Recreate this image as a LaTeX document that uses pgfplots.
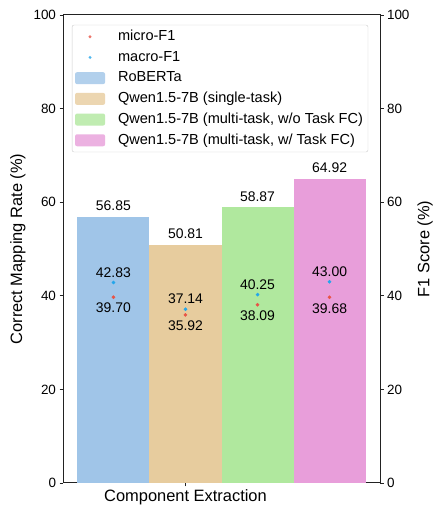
\documentclass[border=0pt]{standalone}
\usepackage{fontspec}
\setmainfont{Liberation Sans}
\usepackage{pgfplots}
\pgfplotsset{compat=1.18}

\definecolor{cRob}{RGB}{160,197,232}
\definecolor{cSingle}{RGB}{231,204,158}
\definecolor{cWo}{RGB}{176,232,158}
\definecolor{cW}{RGB}{232,158,218}
\definecolor{cMicro}{RGB}{232,84,70}
\definecolor{cMacro}{RGB}{35,166,235}
\definecolor{spine}{RGB}{34,34,34}

\begin{document}
\begin{tikzpicture}[x=1bp,y=1bp]
\path[use as bounding box] (0,0) rectangle (434,506);
\pgfplotsset{
  base/.style={
    at={(63bp,23bp)}, anchor=south west,
    scale only axis, width=317bp, height=468bp,
    xmin=-1.7, xmax=2.7, ymin=0, ymax=100,
    ytick={0,20,...,100},
    tick align=outside,
    major tick length=3.5bp,
    every tick/.style={spine, line width=0.8pt},
    axis line style={spine, line width=1pt},
    tick label style={font=\fontsize{13.5}{16}\selectfont},
    /pgf/number format/assume math mode=true,
  },
  barlbl/.style={point meta=explicit symbolic, nodes near coords,
    every node near coord/.style={anchor=center, yshift=11bp, black,
      font=\fontsize{14}{17}\selectfont}},
}
\begin{axis}[base,
  xtick={0}, xticklabels={Component Extraction},
  x tick label style={font=\fontsize{16.5}{19}\selectfont, yshift=-1bp, inner sep=2bp},
  xtick pos=left, ytick pos=left,
  ylabel={Correct Mapping Rate (\%)},
  every axis y label/.style={at={(axis description cs:-0.142,0.5)}, rotate=90,
    anchor=center, font=\fontsize{16.5}{19}\selectfont},
  legend cell align=left,
  legend style={at={(axis description cs:0.028,0.979)}, anchor=north west,
    draw=black!20, rounded corners=2bp, fill=white, fill opacity=0.8, text opacity=1,
    font=\fontsize{14.6}{17}\selectfont, row sep=3.2bp, column sep=11bp, inner sep=3bp,
    nodes={inner sep=2bp, text height=10.5bp, text depth=3bp}},
]
% dummy plots (out of range) so that the F1 entries come first in the legend
\addplot[draw=none, only marks, mark=none,
  legend image code/.code={\fill[cMicro] (15bp,0bp) circle (1.6bp); \path (0bp,0bp) -- (30bp,0bp);}]
  coordinates {(0,-50)};
\addlegendentry{micro-F1}
\addplot[draw=none, only marks, mark=none,
  legend image code/.code={\fill[cMacro] (15bp,0bp) circle (1.6bp); \path (0bp,0bp) -- (30bp,0bp);}]
  coordinates {(0,-50)};
\addlegendentry{macro-F1}

\addplot[ybar, bar width=1, bar shift=0pt, fill=cRob, draw=none, barlbl,
  legend image code/.code={\fill[cRob] (0bp,-6bp) rectangle (30bp,6bp);}]
  coordinates {(-1,56.85) [56.85]};
\addlegendentry{RoBERTa}
\addplot[ybar, bar width=1, bar shift=0pt, fill=cSingle, draw=none, barlbl,
  legend image code/.code={\fill[cSingle] (0bp,-6bp) rectangle (30bp,6bp);}]
  coordinates {(0,50.81) [50.81]};
\addlegendentry{Qwen1.5-7B (single-task)}
\addplot[ybar, bar width=1, bar shift=0pt, fill=cWo, draw=none, barlbl,
  legend image code/.code={\fill[cWo] (0bp,-6bp) rectangle (30bp,6bp);}]
  coordinates {(1,58.87) [58.87]};
\addlegendentry{Qwen1.5-7B (multi-task, w/o Task FC)}
\addplot[ybar, bar width=1, bar shift=0pt, fill=cW, draw=none, barlbl,
  legend image code/.code={\fill[cW] (0bp,-6bp) rectangle (30bp,6bp);}]
  coordinates {(2,64.92) [64.92]};
\addlegendentry{Qwen1.5-7B (multi-task, w/ Task FC)}

% F1 scores (right axis has the same 0-100 scale)
\addplot[forget plot, only marks, mark=*, mark size=1.6bp, cMacro,
  point meta=explicit symbolic, nodes near coords,
  every node near coord/.style={anchor=center, yshift=10bp, black, font=\fontsize{14}{17}\selectfont}]
  coordinates {(-1,42.83) [42.83] (0,37.14) [37.14] (1,40.25) [40.25] (2,43.00) [43.00]};
\addplot[forget plot, only marks, mark=*, mark size=1.6bp, cMicro,
  point meta=explicit symbolic, nodes near coords,
  every node near coord/.style={anchor=center, yshift=-11bp, black, font=\fontsize{14}{17}\selectfont}]
  coordinates {(-1,39.70) [39.70] (0,35.92) [35.92] (1,38.09) [38.09] (2,39.68) [39.68]};
\end{axis}

\begin{axis}[base,
  axis x line=none, axis y line*=right,
  ylabel={F1 Score (\%)},
  every axis y label/.style={at={(axis description cs:1.142,0.5)}, rotate=90,
    anchor=center, font=\fontsize{16.5}{19}\selectfont},
]
\end{axis}
\end{tikzpicture}
\end{document}
